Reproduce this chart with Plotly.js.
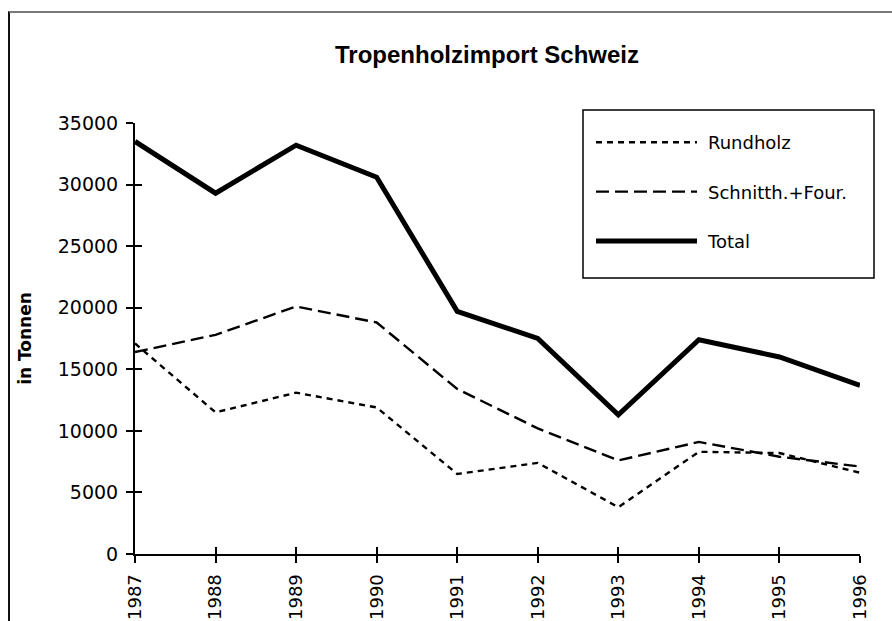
<!DOCTYPE html>
<html>
<head>
<meta charset="utf-8">
<script src="https://cdn.plot.ly/plotly-3.0.1.min.js"></script>
<style>
  html, body { margin: 0; padding: 0; background: #fff; overflow: hidden; }
  #chart { width: 892px; height: 621px; position: absolute; left: 0; top: 0; }
  #frame { position: absolute; left: 8px; top: 11px; width: 900px; height: 700px;
           border-top: 2px solid #7a7a7a; border-left: 2px solid #111; pointer-events: none; }
</style>
</head>
<body>
<div id="chart"></div>
<div id="frame"></div>
<script>
const years = [1987, 1988, 1989, 1990, 1991, 1992, 1993, 1994, 1995, 1996];
const rundholz = [17100, 11500, 13100, 11900, 6500, 7400, 3800, 8300, 8200, 6600];
const schnitth = [16400, 17800, 20100, 18800, 13400, 10200, 7600, 9100, 7900, 7100];
const total = [33500, 29300, 33200, 30600, 19700, 17500, 11300, 17400, 16000, 13700];
const seriesNames = ['Rundholz', 'Schnitth.+Four.', 'Total'];
const yTicks = [0, 5000, 10000, 15000, 20000, 25000, 30000, 35000];

// Total is drawn on the overlay axes (same ranges), which carry the inner half of the crossing ticks
const traces = [
  { x: years, y: rundholz, name: seriesNames[0], mode: 'lines', legendgroup: 'a',
    line: { color: '#000', width: 2.4, dash: '6px,5px' } },
  { x: years, y: schnitth, name: seriesNames[1], mode: 'lines', legendgroup: 'b',
    line: { color: '#000', width: 2.4, dash: '13px,6px' } },
  { x: years, y: total, name: seriesNames[2], mode: 'lines', legendgroup: 'c',
    xaxis: 'x2', yaxis: 'y2', line: { color: '#000', width: 5 } }
];

const yTickFont = { family: 'DejaVu Sans', size: 19, color: '#000' };
const xTickFont = { family: 'DejaVu Sans', size: 18, color: '#000' };

const layout = {
  width: 892, height: 621,
  margin: { l: 135, r: 32, t: 123, b: 67 },
  paper_bgcolor: '#fff', plot_bgcolor: '#fff',
  title: { text: 'Tropenholzimport Schweiz', xref: 'container', yref: 'container',
           x: 0.546, y: 0.912, xanchor: 'center', yanchor: 'middle',
           font: { family: 'Liberation Sans', size: 24, weight: 'bold', color: '#000' } },
  xaxis: { range: [1987, 1996], tickvals: years, ticktext: years.map(String),
           tickangle: -90, ticks: 'outside', ticklen: 7, tickwidth: 2, tickcolor: '#000',
           showline: true, linecolor: '#000', linewidth: 2, showgrid: false, zeroline: false,
           tickfont: xTickFont, ticklabelstandoff: 4 },
  yaxis: { range: [0, 35000], tickvals: yTicks, ticktext: yTicks.map(String),
           ticks: 'outside', ticklen: 7, tickwidth: 2, tickcolor: '#000',
           showline: true, linecolor: '#000', linewidth: 2, showgrid: false, zeroline: false,
           tickfont: yTickFont, ticklabelstandoff: 4,
           title: { text: 'in Tonnen', standoff: 22,
                    font: { family: 'DejaVu Sans', size: 17, weight: 'bold', color: '#000' } } },
  xaxis2: { overlaying: 'x', anchor: 'y2', side: 'bottom', range: [1987, 1996], tickvals: years,
            ticks: 'inside', ticklen: 7, tickwidth: 2, tickcolor: '#000', showticklabels: false,
            showgrid: false },
  yaxis2: { overlaying: 'y', anchor: 'x2', side: 'left', range: [0, 35000], tickvals: yTicks,
            ticks: 'inside', ticklen: 7, tickwidth: 2, tickcolor: '#000', showticklabels: false,
            showgrid: false },
  showlegend: true,
  legend: { x: (591 - 135) / 725, y: 1 - (124 - 123) / 431, xanchor: 'left', yanchor: 'top',
            bgcolor: 'rgba(0,0,0,0)', borderwidth: 0, traceorder: 'grouped', tracegroupgap: 23,
            itemwidth: 107, font: { family: 'DejaVu Sans', size: 18, color: '#000' } },
  shapes: [
    { type: 'rect', xref: 'paper', yref: 'paper',
      x0: (583 - 135) / 725, x1: (874 - 135) / 725,
      y0: (554 - 278) / 431, y1: (554 - 110) / 431,
      line: { color: '#000', width: 1.5 }, fillcolor: 'rgba(0,0,0,0)', layer: 'below' }
  ]
};

Plotly.newPlot('chart', traces, layout, { displayModeBar: false }).then(function (gd) {
  gd.querySelectorAll('.legendlines path').forEach(function (p) {
    p.setAttribute('d', 'M5,0h101');
  });
});
</script>
</body>
</html>
